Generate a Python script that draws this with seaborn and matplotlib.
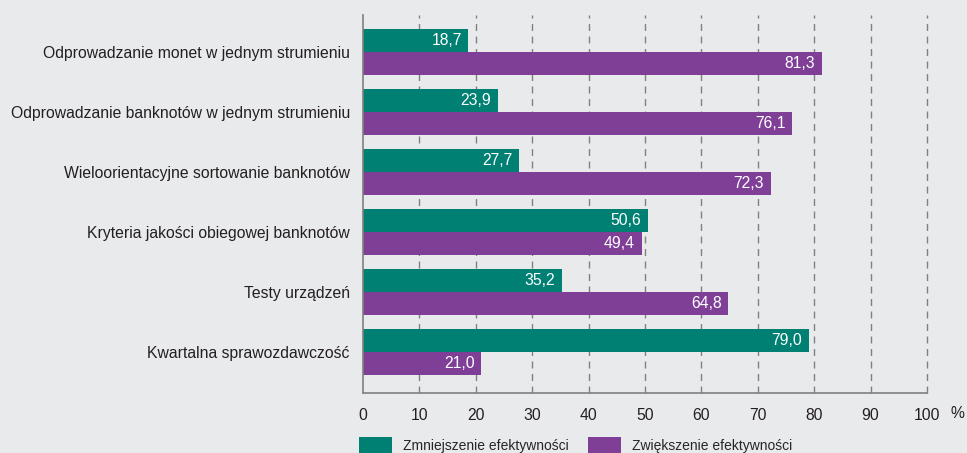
import pandas as pd
import seaborn as sns
import matplotlib.pyplot as plt
from matplotlib.patches import Patch

# data
categories = [
    "Odprowadzanie monet w jednym strumieniu",
    "Odprowadzanie banknotów w jednym strumieniu",
    "Wieloorientacyjne sortowanie banknotów",
    "Kryteria jakości obiegowej banknotów",
    "Testy urządzeń",
    "Kwartalna sprawozdawczość",
]
series_names = ["Zmniejszenie efektywności", "Zwiększenie efektywności"]
decrease = [18.7, 23.9, 27.7, 50.6, 35.2, 79.0]
increase = [81.3, 76.1, 72.3, 49.4, 64.8, 21.0]
x_ticks = [0, 10, 20, 30, 40, 50, 60, 70, 80, 90, 100]

colors = ["#008073", "#7f3f97"]
bg = "#e9eaec"
txt = "#231f20"
fs = 11.3

df = pd.DataFrame({
    "cat": categories * 2,
    "series": [series_names[0]] * 6 + [series_names[1]] * 6,
    "value": decrease + increase,
})

sns.set_style("white")
plt.rcParams["font.family"] = ["Liberation Sans", "DejaVu Sans"]

fig = plt.figure(figsize=(9.67, 4.53), dpi=100, facecolor=bg)
ax = fig.add_axes([0.3754, 0.1325, 0.5832, 0.8345])
ax.set_facecolor(bg)

sns.barplot(data=df, y="cat", x="value", hue="series", palette=colors,
            width=0.77, saturation=1, orient="h", legend=False, linewidth=0, ax=ax)

for p in ax.patches:
    w = p.get_width()
    if w <= 0:
        continue
    ax.text(w - 1.2, p.get_y() + p.get_height() / 2, f"{w:.1f}".replace(".", ","),
            ha="right", va="center", color="white", fontsize=fs)

ax.set_xlim(0, 100)
ax.set_ylim(5.683, -0.617)
ax.set_xticks(x_ticks)
ax.set_xticklabels([str(t) for t in x_ticks], fontsize=fs, color=txt)
ax.tick_params(axis="y", length=0, pad=9.5, labelsize=fs, labelcolor=txt)
ax.tick_params(axis="x", direction="inout", length=8, width=1, color="#808080", pad=7)
ax.set_xlabel("")
ax.set_ylabel("")

for t in x_ticks[1:]:
    ax.axvline(t, color="#808080", lw=1, ls=(0, (5, 4)), zorder=0, clip_on=False)

for s in ["top", "right"]:
    ax.spines[s].set_visible(False)
for s in ["left", "bottom"]:
    ax.spines[s].set_color("#808080")
    ax.spines[s].set_linewidth(1.2)

fig.text(957 / 967, 1 - 413 / 453, "%", fontsize=fs, color=txt, ha="center", va="center")

# legend, two entries placed separately
for i, x0 in enumerate([359, 588]):
    fig.legend([Patch(facecolor=colors[i], edgecolor="none")], [series_names[i]],
               loc="center left", bbox_to_anchor=(x0 / 967, 1 - 445 / 453),
               frameon=False, fontsize=10, handlelength=2.4, handleheight=1.5,
               handletextpad=0.75, borderaxespad=0, borderpad=0)

fig.savefig("out.png", dpi=100, facecolor=bg)
